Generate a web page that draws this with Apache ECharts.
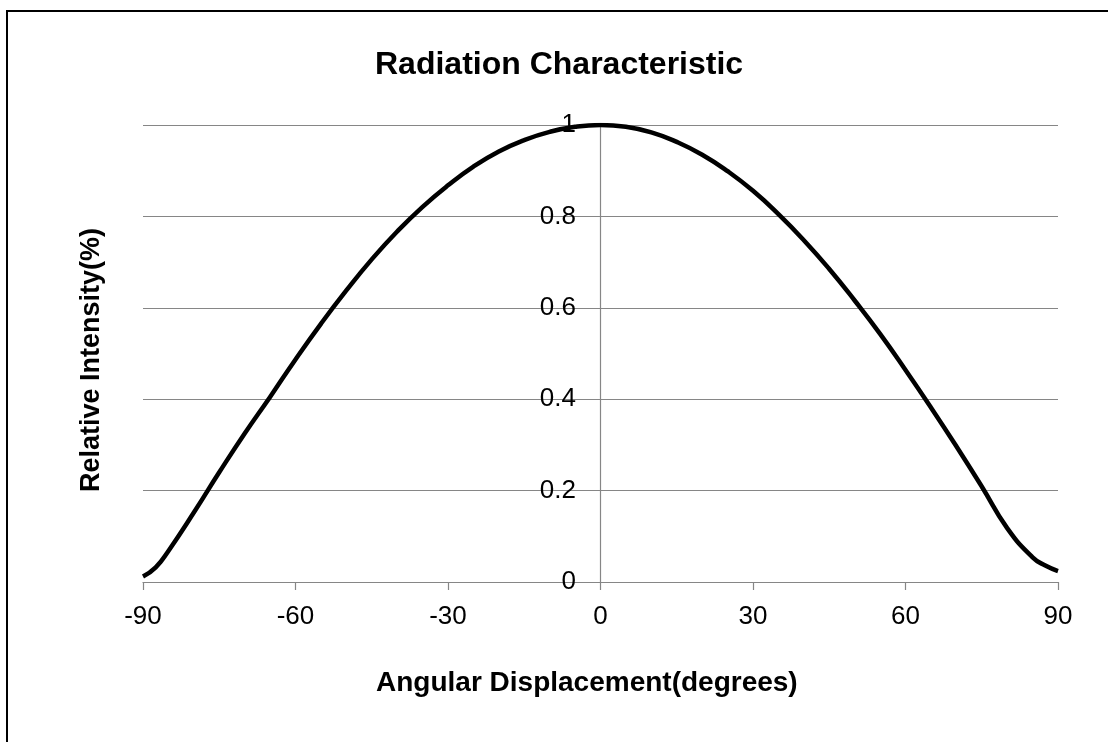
<!DOCTYPE html>
<html>
<head>
<meta charset="utf-8">
<script src="https://cdn.jsdelivr.net/npm/echarts@6/dist/echarts.min.js"></script>
<style>html,body{margin:0;padding:0;background:#fff;}#c{width:1108px;height:742px;}</style>
</head>
<body>
<div id="c"></div>
<script>
const chartTitle = 'Radiation Characteristic';
const xTitle = 'Angular Displacement(degrees)';
const yTitle = 'Relative Intensity(%)';
const angles = [-90,-87.5,-85,-80,-75,-70,-65,-60,-55,-50,-45,-40,-35,-30,-25,-20,-15,-10,-5,0,
                5,10,15,20,25,30,35,40,45,50,55,60,65,70,75,80,85,87.5,90];
const intensity = [0.012,0.032,0.068,0.152,0.240,0.325,0.405,0.487,0.565,0.638,0.706,0.767,0.821,0.868,0.909,0.942,0.967,0.985,0.996,1.0,
                   0.996,0.984,0.963,0.935,0.899,0.856,0.805,0.748,0.685,0.616,0.543,0.464,0.382,0.297,0.209,0.118,0.054,0.036,0.024];

const FONT = '"Liberation Sans", Arial, sans-serif';
const chart = echarts.init(document.getElementById('c'));
chart.setOption({
  animation: false,
  backgroundColor: '#fff',
  title: [{
    text: chartTitle, left: 370, top: 44,
    textStyle: {fontFamily: FONT, fontSize: 32, fontWeight: 'bold', color: '#000'}
  }, {
    text: xTitle, left: 371, top: 664,
    textStyle: {fontFamily: FONT, fontSize: 28, fontWeight: 'bold', color: '#000'}
  }],
  graphic: [{
    type: 'rect', silent: true,
    shape: {x: 7, y: 11, width: 1200, height: 800},
    style: {fill: 'none', stroke: '#000', lineWidth: 2}
  }, {
    type: 'text', x: 92, y: 360, rotation: Math.PI / 2,
    style: {text: yTitle, fontFamily: FONT, fontSize: 27, fontWeight: 'bold', fill: '#000',
            align: 'center', verticalAlign: 'middle'}
  }],
  grid: {left: 143, right: 50, top: 125, bottom: 160, containLabel: false},
  xAxis: {
    type: 'value', min: -90, max: 90, interval: 30,
    axisLine: {show: true, onZero: true, lineStyle: {color: '#868686', width: 1.2}},
    axisTick: {show: true, inside: false, length: 8, lineStyle: {color: '#868686', width: 1.2}},
    axisLabel: {fontFamily: FONT, fontSize: 26, color: '#000', margin: 22},
    splitLine: {show: false}
  },
  yAxis: {
    type: 'value', min: 0, max: 1, interval: 0.2,
    position: 'left', offset: -457,
    axisLine: {show: true, onZero: false, lineStyle: {color: '#868686', width: 1.2}},
    axisTick: {show: false},
    axisLabel: {fontFamily: FONT, fontSize: 26, color: '#000', margin: 24},
    splitLine: {show: true, lineStyle: {color: '#868686', width: 1.2}}
  },
  series: [{
    type: 'line',
    data: angles.map((a, i) => [a, intensity[i]]),
    smooth: 0.5,
    showSymbol: false,
    lineStyle: {color: '#000', width: 4.5},
    z: 3
  }]
});
</script>
</body>
</html>
